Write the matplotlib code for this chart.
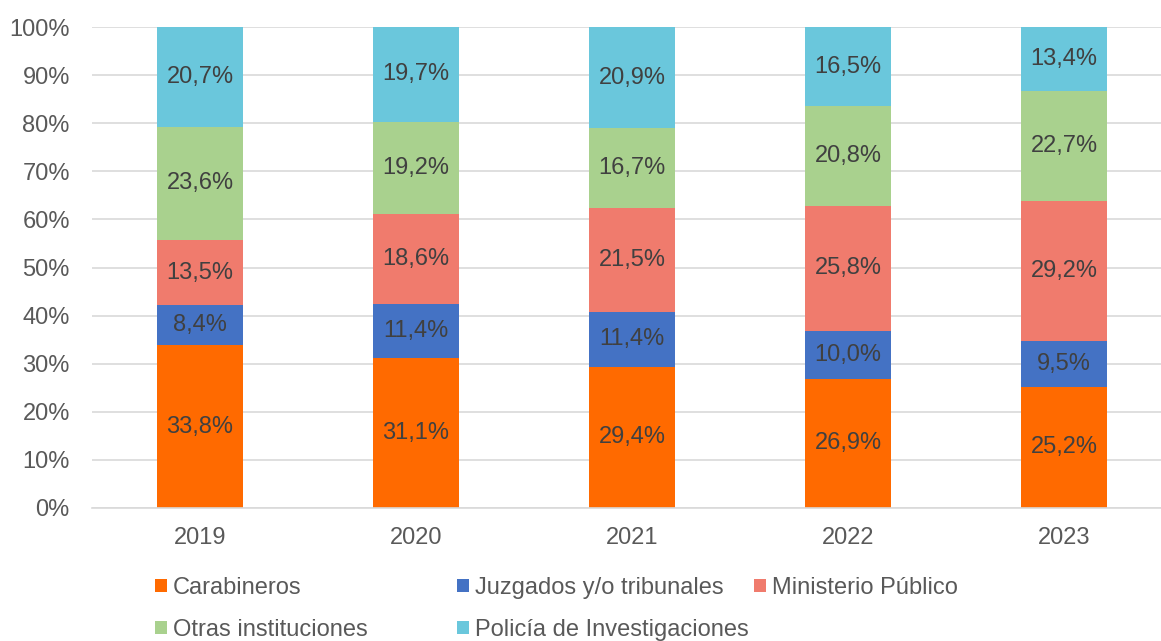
import matplotlib
matplotlib.use("Agg")
import matplotlib.pyplot as plt
import numpy as np

plt.rcParams['font.family'] = ['Liberation Sans', 'DejaVu Sans']

years = ["2019", "2020", "2021", "2022", "2023"]
series_names = ["Carabineros", "Juzgados y/o tribunales", "Ministerio Público",
                "Otras instituciones", "Policía de Investigaciones"]
carabineros = [33.8, 31.1, 29.4, 26.9, 25.2]
juzgados = [8.4, 11.4, 11.4, 10.0, 9.5]
ministerio = [13.5, 18.6, 21.5, 25.8, 29.2]
otras = [23.6, 19.2, 16.7, 20.8, 22.7]
policia = [20.7, 19.7, 20.9, 16.5, 13.4]
colors = ["#FF6A00", "#4472C4", "#F07B6D", "#A9D18E", "#6AC7DC"]

data = [carabineros, juzgados, ministerio, otras, policia]

fig = plt.figure(figsize=(11.61, 6.41), dpi=100)
W, H = 1161, 641
ax = fig.add_axes([92 / W, 1 - 508 / H, (1161 - 92) / W, (508 - 27) / H])

x = np.arange(len(years))
bottom = np.zeros(len(years))
handles = []
for vals, c, name in zip(data, colors, series_names):
    vals = np.array(vals)
    b = ax.bar(x, vals, width=0.4, bottom=bottom, color=c, label=name, zorder=2)
    handles.append(b)
    for xi, v, bt in zip(x, vals, bottom):
        ax.text(xi, bt + v / 2, f"{v:.1f}%".replace(".", ","), ha="center", va="center",
                fontsize=17, color="#404040", zorder=3)
    bottom += vals

ax.set_xlim(-0.5, 4.5 - 11 / 216)
ax.set_ylim(0, 100)
ax.set_yticks(np.arange(0, 101, 10))
ax.set_yticklabels([f"{t}%" for t in range(0, 101, 10)])
ax.set_xticks(x)
ax.set_xticklabels(years)
ax.tick_params(axis="both", length=0, labelsize=17, labelcolor="#595959")
ax.tick_params(axis="y", pad=16)
ax.tick_params(axis="x", pad=14)
ax.grid(axis="y", color="#D9D9D9", linewidth=1.2, zorder=0)
for s in ["top", "right", "left"]:
    ax.spines[s].set_visible(False)
ax.spines["bottom"].set_color("#D9D9D9")
ax.spines["bottom"].set_linewidth(1.2)

cols = [([0, 3], 155), ([1, 4], 457), ([2], 754)]
for idxs, px in cols:
    leg = fig.legend([handles[i] for i in idxs], [series_names[i] for i in idxs],
                     loc="upper left", bbox_to_anchor=(px / W, 1 - 577 / H),
                     frameon=False, fontsize=17, handlelength=0.5, handleheight=0.5,
                     handletextpad=0.25, labelspacing=0.85, borderaxespad=0, borderpad=0)
    for t in leg.get_texts():
        t.set_color("#595959")

fig.savefig("out.png", dpi=100)
